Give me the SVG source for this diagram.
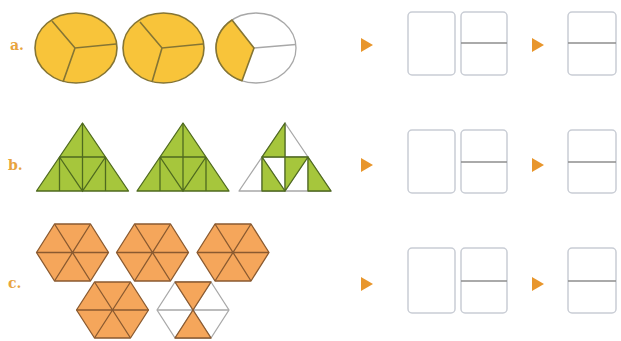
<svg xmlns="http://www.w3.org/2000/svg" width="621" height="341" viewBox="0 0 621 341">
<style>
.lbl{font-family:"DejaVu Serif","Liberation Serif",serif;font-weight:bold;font-size:14px;fill:#E8A43E}
.y{fill:#F8C43A;stroke:#857534;stroke-width:1.6;stroke-linejoin:round}
.yl{stroke:#857534;stroke-width:1.6;fill:none}
.g{fill:#A6C63C;stroke:#4F6A1F;stroke-width:1.3;stroke-linejoin:round}
.gl{stroke:#4F6A1F;stroke-width:1.3;fill:none}
.o{fill:#F5A65B;stroke:#8A5A30;stroke-width:1.3;stroke-linejoin:round}
.ol{stroke:#8A5A30;stroke-width:1.3;fill:none}
.w{fill:#fff;stroke:#A8A8A8;stroke-width:1.3;stroke-linejoin:round}
.wl{stroke:#A8A8A8;stroke-width:1.3;fill:none}
.box{fill:#fff;stroke:#C9CDD5;stroke-width:1.5}
.div{stroke:#8E8E8E;stroke-width:1.3}
.arr{fill:#E8962C}
</style>
<rect width="621" height="341" fill="#fff"/>
<g id="labels">
<text class="lbl" x="10" y="50">a.</text>
<text class="lbl" x="8" y="170">b.</text>
<text class="lbl" x="8" y="288">c.</text>
</g>
<g id="circle1">
<ellipse class="y" cx="76" cy="48" rx="41" ry="35"/>
<path class="yl" d="M52,21 L75,48 L116,44 M75,48 L63,82"/>
</g>
<g id="circle2">
<ellipse class="y" cx="163.5" cy="48" rx="40.5" ry="35"/>
<path class="yl" d="M140,22 L162,48 L203,44 M162,48 L152,82"/>
</g>
<g id="circle3">
<ellipse class="w" cx="256" cy="48" rx="40" ry="35"/>
<path class="wl" d="M254,48 L295.8,44.5"/>
<path class="y" d="M254,48 L232,20 A40,35 0 0,0 242,80.8 Z"/>
</g>
<g id="triangle1">
<path class="g" d="M82.5,123 L128.5,191 L36.5,191 Z"/>
<path class="gl" d="M59.5,157 H105.5 M59.5,157 L82.5,191 L105.5,157 M82.5,123 V191 M59.5,157 V191 M105.5,157 V191"/>
</g>
<g id="triangle2">
<path class="g" d="M183,123 L229,191 L137,191 Z"/>
<path class="gl" d="M160,157 H206 M160,157 L183,191 L206,157 M183,123 V191 M160,157 V191 M206,157 V191"/>
</g>
<g id="triangle3">
<path class="w" d="M285,123 L331,191 L239,191 Z"/>
<path class="wl" d="M262,157 H308 M262,157 L285,191 L308,157 M285,123 V191 M262,157 V191 M308,157 V191"/>
<path class="g" d="M285,123 L262,157 L285,157 Z"/>
<path class="g" d="M262,157 L262,191 L285,191 Z"/>
<path class="g" d="M285,157 L308,157 L285,191 Z"/>
<path class="g" d="M308,157 L308,191 L331,191 Z"/>
</g>
<g id="hexagon1">
<path class="o" d="M36.5,252.5 L54.5,224 L90.5,224 L108.5,252.5 L90.5,281 L54.5,281 Z"/>
<path class="ol" d="M36.5,252.5 H108.5 M54.5,224 L90.5,281 M90.5,224 L54.5,281"/>
</g>
<g id="hexagon2">
<path class="o" d="M116.5,252.5 L134.5,224 L170.5,224 L188.5,252.5 L170.5,281 L134.5,281 Z"/>
<path class="ol" d="M116.5,252.5 H188.5 M134.5,224 L170.5,281 M170.5,224 L134.5,281"/>
</g>
<g id="hexagon3">
<path class="o" d="M197,252.5 L215,224 L251,224 L269,252.5 L251,281 L215,281 Z"/>
<path class="ol" d="M197,252.5 H269 M215,224 L251,281 M251,224 L215,281"/>
</g>
<g id="hexagon4">
<path class="o" d="M76.5,310 L94.5,282 L130.5,282 L148.5,310 L130.5,338 L94.5,338 Z"/>
<path class="ol" d="M76.5,310 H148.5 M94.5,282 L130.5,338 M130.5,282 L94.5,338"/>
</g>
<g id="hexagon5">
<path class="w" d="M157,310 L175,282 L211,282 L229,310 L211,338 L175,338 Z"/>
<path class="wl" d="M157,310 H229 M175,282 L211,338 M211,282 L175,338"/>
<path class="o" d="M175,282 L211,282 L193,310 Z"/>
<path class="o" d="M175,338 L211,338 L193,310 Z"/>
</g>
<g id="arrows">
<path class="arr" d="M361,38 L373,45 L361,52 Z"/>
<path class="arr" d="M532,38 L544,45 L532,52 Z"/>
<path class="arr" d="M361,158 L373,165 L361,172 Z"/>
<path class="arr" d="M532,158 L544,165 L532,172 Z"/>
<path class="arr" d="M361,277 L373,284 L361,291 Z"/>
<path class="arr" d="M532,277 L544,284 L532,291 Z"/>
</g>
<g id="boxesA">
<rect class="box" x="408" y="12" width="47" height="63" rx="4"/>
<rect class="box" x="461" y="12" width="46" height="63" rx="4"/>
<line class="div" x1="461" y1="43" x2="507" y2="43"/>
<rect class="box" x="568" y="12" width="48" height="63" rx="4"/>
<line class="div" x1="568" y1="43" x2="616" y2="43"/>
</g>
<g id="boxesB">
<rect class="box" x="408" y="130" width="47" height="63" rx="4"/>
<rect class="box" x="461" y="130" width="46" height="63" rx="4"/>
<line class="div" x1="461" y1="162" x2="507" y2="162"/>
<rect class="box" x="568" y="130" width="48" height="63" rx="4"/>
<line class="div" x1="568" y1="162" x2="616" y2="162"/>
</g>
<g id="boxesC">
<rect class="box" x="408" y="248" width="47" height="65" rx="4"/>
<rect class="box" x="461" y="248" width="46" height="65" rx="4"/>
<line class="div" x1="461" y1="281" x2="507" y2="281"/>
<rect class="box" x="568" y="248" width="48" height="65" rx="4"/>
<line class="div" x1="568" y1="281" x2="616" y2="281"/>
</g>
</svg>
